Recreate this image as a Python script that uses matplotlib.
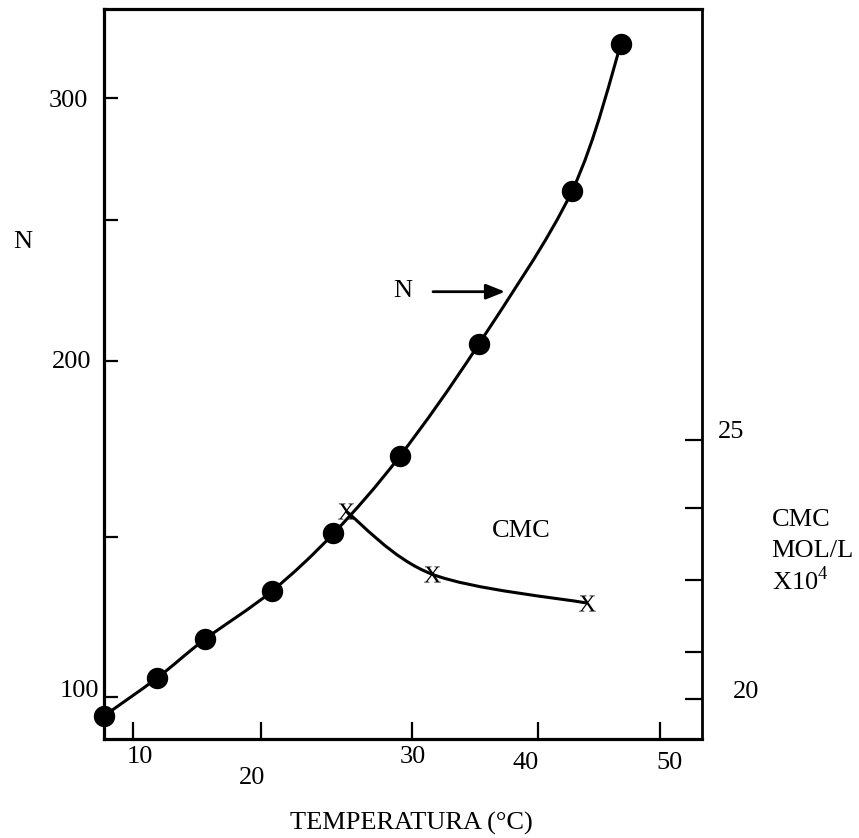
import numpy as np
import matplotlib.pyplot as plt
from matplotlib.path import Path
from matplotlib.patches import PathPatch

plt.rcParams['font.family'] = 'Liberation Serif'
plt.rcParams['mathtext.fontset'] = 'custom'
plt.rcParams['mathtext.rm'] = 'Liberation Serif'

# N versus temperature (filled circles)
temp_n = [7.7, 11.9, 15.6, 20.7, 24.8, 29.2, 35.3, 42.8, 46.8]
n_vals = [94, 106, 118, 133, 151, 173, 206, 262, 322]

# CMC (mol/L x 10^4) versus temperature (X marks)
temp_cmc = [25.6, 31.6, 44.0]
cmc_vals = [23.7, 22.6, 22.1]

# the axes of the original are hand drawn: graduations are not evenly spaced,
# so each axis gets a piecewise linear scale built from where its ticks sit (px)
x_ticks = [10, 20, 30, 40, 50]
x_tick_labels = ['10', '20', '30', '40', '50']
x_tick_px = [133, 261, 412, 538, 660]
n_ticks = [100, 150, 200, 250, 300]
n_tick_labels = ['100', '', '200', '', '300']
n_tick_px = [697, 537, 361, 220, 98]
cmc_ticks = [20, 21.25, 22.5, 23.75, 25]
cmc_tick_labels = ['20', '', '', '', '25']
cmc_tick_px = [699, 652, 580, 508, 440]

W, H = 859, 838
AX_L, AX_R, AX_T, AX_B = 104, 702, 8.5, 739
FS = 19
PX = 0.72  # points per pixel at dpi 100


def uneven_scale(vals, pos):
    vals = np.asarray(vals, float)
    pos = np.asarray(pos, float)
    lo = (pos[1] - pos[0]) / (vals[1] - vals[0])
    hi = (pos[-1] - pos[-2]) / (vals[-1] - vals[-2])
    # extend the ends so np.interp extrapolates instead of clamping
    v = np.r_[vals[0] - 1000, vals, vals[-1] + 1000]
    p = np.r_[pos[0] - 1000 * lo, pos, pos[-1] + 1000 * hi]

    def fwd(x):
        return np.interp(x, v, p)

    def inv(y):
        return np.interp(y, p, v)
    return fwd, inv


def smooth_path(xs, ys):
    # Catmull-Rom through the points, written as cubic bezier segments
    pts = np.column_stack([xs, ys]).astype(float)
    verts = [pts[0]]
    codes = [Path.MOVETO]
    for i in range(len(pts) - 1):
        p0 = pts[max(i - 1, 0)]
        p1 = pts[i]
        p2 = pts[i + 1]
        p3 = pts[min(i + 2, len(pts) - 1)]
        verts += [p1 + (p2 - p0) / 6, p2 - (p3 - p1) / 6, p2]
        codes += [Path.CURVE4] * 3
    return Path(verts, codes)


def add_curve(axis, xs, ys, fx, fy):
    # build the curve in scaled space so the uneven scale puts no kinks in it
    path = smooth_path(fx(np.asarray(xs, float)), fy(np.asarray(ys, float)))
    axis.add_patch(PathPatch(path, fill=False, lw=2.2, color='k', clip_on=False,
                             transform=axis.transLimits + axis.transAxes))


fig = plt.figure(figsize=(W / 100, H / 100), dpi=100)
ax = fig.add_axes([AX_L / W, 1 - AX_B / H, (AX_R - AX_L) / W, (AX_B - AX_T) / H])

x_fwd, x_inv = uneven_scale(x_ticks, x_tick_px)
ax.set_xscale('function', functions=(x_fwd, x_inv))
ax.set_xlim(x_inv(AX_L), x_inv(AX_R))

n_fwd, n_inv = uneven_scale(n_ticks, [H - p for p in n_tick_px])
ax.set_yscale('function', functions=(n_fwd, n_inv))
ax.set_ylim(n_inv(H - AX_B), n_inv(H - AX_T))

ax.set_xticks(x_ticks)
ax.set_yticks(n_ticks)
ax.tick_params(axis='x', direction='in', length=12, width=1.6, labelbottom=False)
ax.tick_params(axis='y', direction='in', length=10, width=1.6, labelleft=False)
ax.minorticks_off()
for side in ['left', 'top', 'bottom']:
    ax.spines[side].set_linewidth(2.3)
ax.spines['right'].set_linewidth(2.0)

ax2 = ax.twinx()
c_fwd, c_inv = uneven_scale(cmc_ticks, [H - p for p in cmc_tick_px])
ax2.set_yscale('function', functions=(c_fwd, c_inv))
ax2.set_ylim(c_inv(H - AX_B), c_inv(H - AX_T))
ax2.set_yticks(cmc_ticks)
ax2.tick_params(axis='y', direction='in', length=12, width=1.6, labelright=False)
ax2.minorticks_off()
for s in ax2.spines.values():
    s.set_visible(False)

# N curve
add_curve(ax, temp_n, n_vals, x_fwd, n_fwd)
ax.plot(temp_n, n_vals, 'o', ms=14.4, color='k', clip_on=False, zorder=3)

# CMC curve
add_curve(ax2, temp_cmc, cmc_vals, x_fwd, c_fwd)
ax2.plot(temp_cmc, cmc_vals, ls='none', marker=r'$\mathrm{X}$', ms=12,
         mew=0, color='k', zorder=3)

# tick labels, placed by hand like the drawing (offset px: right, down)
x_lab_off = [(7, 23.7), (-8.5, 45), (1, 23.7), (-12, 30), (10, 30)]
for t, lab, (dx, dy) in zip(x_ticks, x_tick_labels, x_lab_off):
    ax.annotate(lab, xy=(t, 0), xycoords=('data', 'axes fraction'),
                xytext=(dx * PX, -dy * PX), textcoords='offset points',
                ha='center', va='baseline', fontsize=FS)

n_lab_off = [(-5, 0.3), None, (-13, 7.3), None, (-16, 9.3)]
for t, lab, off in zip(n_ticks, n_tick_labels, n_lab_off):
    if not lab:
        continue
    ax.annotate(lab, xy=(0, t), xycoords=('axes fraction', 'data'),
                xytext=(off[0] * PX, -off[1] * PX), textcoords='offset points',
                ha='right', va='baseline', fontsize=FS)

c_lab_off = [(31, -1), None, None, None, (16, -2)]
for t, lab, off in zip(cmc_ticks, cmc_tick_labels, c_lab_off):
    if not lab:
        continue
    ax2.annotate(lab, xy=(1, t), xycoords=('axes fraction', 'data'),
                 xytext=(off[0] * PX, -off[1] * PX), textcoords='offset points',
                 ha='left', va='baseline', fontsize=FS)

# axis titles and annotations
fig.text(23 / W, 1 - 248.3 / H, 'N', ha='center', va='baseline', fontsize=FS)
fig.text(290 / W, 1 - 830 / H, 'TEMPERATURA (°C)', ha='left', va='baseline',
         fontsize=FS)
fig.text(771.7 / W, 1 - 526 / H, 'CMC', ha='left', va='baseline', fontsize=FS)
fig.text(771.7 / W, 1 - 556.7 / H, 'MOL/L', ha='left', va='baseline', fontsize=FS)
fig.text(771.7 / W, 1 - 590 / H, r'X10$^{4}$', ha='left', va='baseline',
         fontsize=FS)

fig.text(403 / W, 1 - 297.3 / H, 'N', ha='center', va='baseline', fontsize=FS)
fig.text(491.7 / W, 1 - 537.3 / H, 'CMC', ha='left', va='baseline', fontsize=FS)
ax.annotate('', xy=(505 / W, 1 - 291.7 / H), xytext=(433 / W, 1 - 291.7 / H),
            xycoords='figure fraction', textcoords='figure fraction',
            arrowprops=dict(arrowstyle='-|>,head_length=0.72,head_width=0.29',
                            lw=2, color='k', mutation_scale=16,
                            shrinkA=0, shrinkB=0))

fig.savefig('out.png', dpi=100)
